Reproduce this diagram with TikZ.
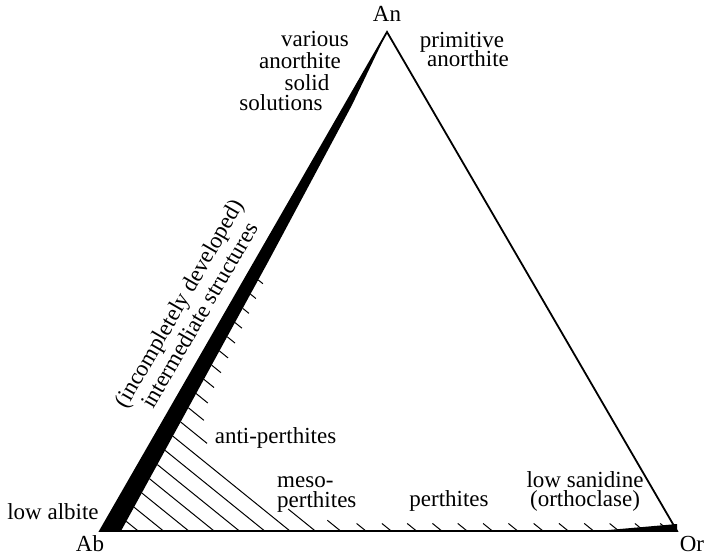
\documentclass[tikz,border=0pt]{standalone}
\usepackage{fontspec}
\setmainfont{Liberation Serif}
\usetikzlibrary{calc}

\begin{document}
\begin{tikzpicture}[x=1pt,y=-1pt,font=\fontsize{23}{20}\selectfont,
  edge/.style={line width=1.8pt,line join=miter},
  hatch/.style={line width=1pt},
  lbl/.style={anchor=base,inner sep=0pt}]
\useasboundingbox (0,0) rectangle (711,556);
\coordinate (ab) at (100,531);
\coordinate (an) at (387,32);
\coordinate (or) at (677,531);
\coordinate (band-lo) at (121,531);
\coordinate (band-mid) at (268,262);
\coordinate (band-hi) at (352,105);
% black wedges
\path[fill=black] (ab) -- (band-lo) -- (band-mid) -- (band-hi) -- (an) -- cycle;
\path[fill=black] (597,531) -- (677,524) -- (or) -- cycle;
\draw[edge] (ab) -- (an) -- (or) -- cycle;
% hatching (y axis points down)
\foreach \k in {-6,...,0}{
  \coordinate (hb) at (290+25.3*\k,531);
  \coordinate (hu) at ($(hb)+(219:60)$);
  \coordinate (hp) at (intersection of hb--hu and band-lo--band-mid);
  \draw[hatch] (hp) -- (hb);
}
\foreach \k/\len in {1/34,2/20,3/15,4/13,5/12,6/11,7/10,8/9,9/8,10/7,11/6}{
  \coordinate (hb) at (290+25.3*\k,531);
  \coordinate (hu) at ($(hb)+(219:60)$);
  \coordinate (hp) at (intersection of hb--hu and band-lo--band-mid);
  \draw[hatch] (hp) -- ++(39:\len);
}
\foreach \k/\len in {1/35,2/17,3/12,4/12,5/12,6/12,7/12,8/12,9/12,10/12,11/12,12/12,13/12,14/12,15/12}{
  \coordinate (hb) at (290+25.3*\k,531);
  \draw[hatch] (hb) -- ++(219:\len);
}
% corners
\node[lbl] (lbl-an) at (387,22) {An};
\node[lbl] (lbl-ab) at (90,551) {Ab};
\node[lbl] (lbl-or) at (692,551) {Or};
% labels
\node[lbl] (various-1) at (315,46.7) {various};
\node[lbl] (various-2) at (300,68.3) {anorthite};
\node[lbl] (various-3) at (307,91) {solid};
\node[lbl] (various-4) at (281,111) {solutions};
\node[lbl] (primitive-1) at (462,48) {primitive};
\node[lbl] (primitive-2) at (468,67) {anorthite};
\node[rotate=60,align=center] (intermediate) at (189,309) {(incompletely developed)\\[2pt]intermediate structures};
\node[lbl] (anti) at (275.5,443) {anti-perthites};
\node[lbl,anchor=base west] (meso-1) at (277,487) {meso-};
\node[lbl,anchor=base west] (meso-2) at (277,507) {perthites};
\node[lbl] (perthites) at (449,506) {perthites};
\node[lbl] (sanidine-1) at (585,487) {low sanidine};
\node[lbl] (sanidine-2) at (585,506) {(orthoclase)};
\node[lbl] (albite) at (53,519) {low albite};
\end{tikzpicture}
\end{document}
